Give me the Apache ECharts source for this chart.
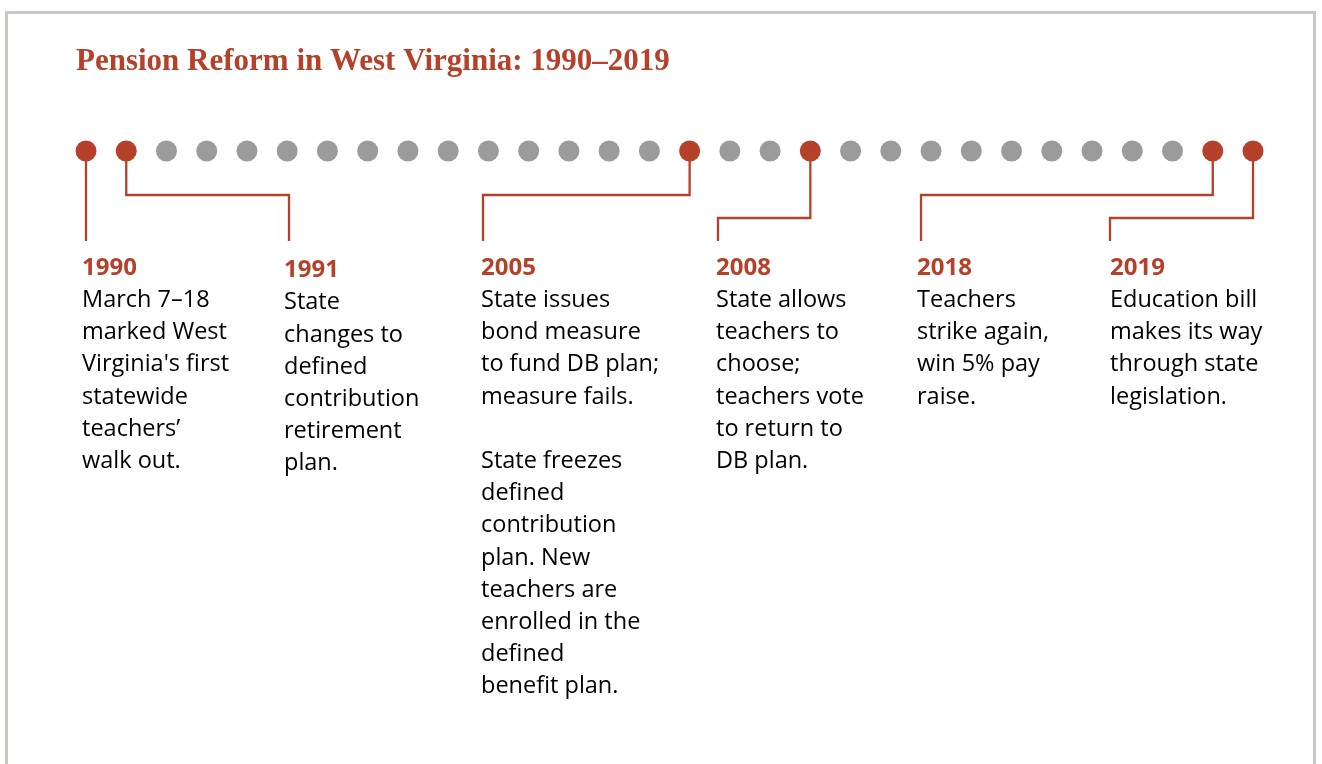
<!DOCTYPE html>
<html>
<head>
<meta charset="utf-8">
<script src="https://cdn.jsdelivr.net/npm/echarts@6/dist/echarts.min.js"></script>
<style>
html,body{margin:0;padding:0;background:#fff}
#main{width:1322px;height:764px}
</style>
</head>
<body>
<div id="main"></div>
<script>
// 时间轴上的全部年份
var years = [1990,1991,1992,1993,1994,1995,1996,1997,1998,1999,2000,2001,2002,2003,
    2004,2005,2006,2007,2008,2009,2010,2011,2012,2013,2014,2015,2016,2017,2018,2019]

// 标注的事件
var eventYears = [1990, 1991, 2005, 2008, 2018, 2019]
var eventTexts = [
    ['March 7\u201318', 'marked West', "Virginia's first", 'statewide', 'teachers\u2019', 'walk out.'],
    ['State', 'changes to', 'defined', 'contribution', 'retirement', 'plan.'],
    ['State issues', 'bond measure', 'to fund DB plan;', 'measure fails.', '', 'State freezes', 'defined',
        'contribution', 'plan. New', 'teachers are', 'enrolled in the', 'defined', 'benefit plan.'],
    ['State allows', 'teachers to', 'choose;', 'teachers vote', 'to return to', 'DB plan.'],
    ['Teachers', 'strike again,', 'win 5% pay', 'raise.'],
    ['Education bill', 'makes its way', 'through state', 'legislation.']
]

// 版式（像素）
var labelLeft = [82, 284, 481, 716, 917, 1110]
var dropX = [86, 289, 483, 718, 921, 1110]
var elbowY = [null, 195, 195, 218, 195, 218]
var labelDy = [0, 2.5, 0, 0, 0, 0]
var labelTop = 252
var lineH = 32.2
var dropBottom = 241

var RED = '#b5412a'
var GRAY = '#9b9b9b'
var BODY_FONT = '"Open Sans", sans-serif'

var chart = echarts.init(document.getElementById('main'))

var option = {
    backgroundColor: '#fff',
    animation: false,
    title: {
        text: 'Pension Reform in West Virginia: 1990\u20132019',
        left: 76,
        top: 46,
        padding: 0,
        textStyle: {
            color: RED,
            fontFamily: '"Liberation Serif", serif',
            fontWeight: 'bold',
            fontSize: 31
        }
    },
    graphic: [{
        type: 'rect',
        silent: true,
        shape: {x: 6.5, y: 12.5, width: 1308, height: 800},
        style: {fill: 'none', stroke: '#ccc6c3', lineWidth: 3},
        z: -1
    }],
    grid: {left: 86, right: 69, top: 141, height: 20},
    xAxis: {type: 'value', min: 1990, max: 2019, show: false},
    yAxis: {type: 'value', min: -1, max: 1, show: false},
    series: [
        {
            type: 'custom',
            z: 1,
            data: eventYears.map(function (y) { return [y, 0] }),
            renderItem: function (params, api) {
                var i = params.dataIndex
                var p = api.coord([api.value(0), 0])
                var pts
                if (elbowY[i] == null) {
                    pts = [[p[0], p[1]], [p[0], dropBottom]]
                } else {
                    pts = [[p[0], p[1]], [p[0], elbowY[i]], [dropX[i], elbowY[i]], [dropX[i], dropBottom]]
                }
                var top = labelTop + labelDy[i]
                return {
                    type: 'group',
                    children: [
                        {
                            type: 'polyline',
                            shape: {points: pts},
                            style: {stroke: RED, lineWidth: 2.3, fill: 'none'}
                        },
                        {
                            type: 'text',
                            x: labelLeft[i], y: top,
                            style: {
                                text: String(eventYears[i]),
                                fill: RED,
                                font: 'bold 24px ' + BODY_FONT,
                                lineHeight: lineH,
                                verticalAlign: 'top'
                            }
                        },
                        {
                            type: 'text',
                            x: labelLeft[i], y: top + lineH,
                            style: {
                                text: eventTexts[i].join('\n'),
                                fill: '#000',
                                font: '23.5px ' + BODY_FONT,
                                lineHeight: lineH,
                                verticalAlign: 'top'
                            }
                        }
                    ]
                }
            }
        },
        {
            type: 'scatter',
            z: 2,
            symbolSize: 21,
            data: years.map(function (y) { return [y, 0] }),
            itemStyle: {
                opacity: 1,
                color: function (p) {
                    return eventYears.indexOf(p.value[0]) >= 0 ? RED : GRAY
                }
            }
        }
    ]
}
chart.setOption(option)
</script>
</body>
</html>
